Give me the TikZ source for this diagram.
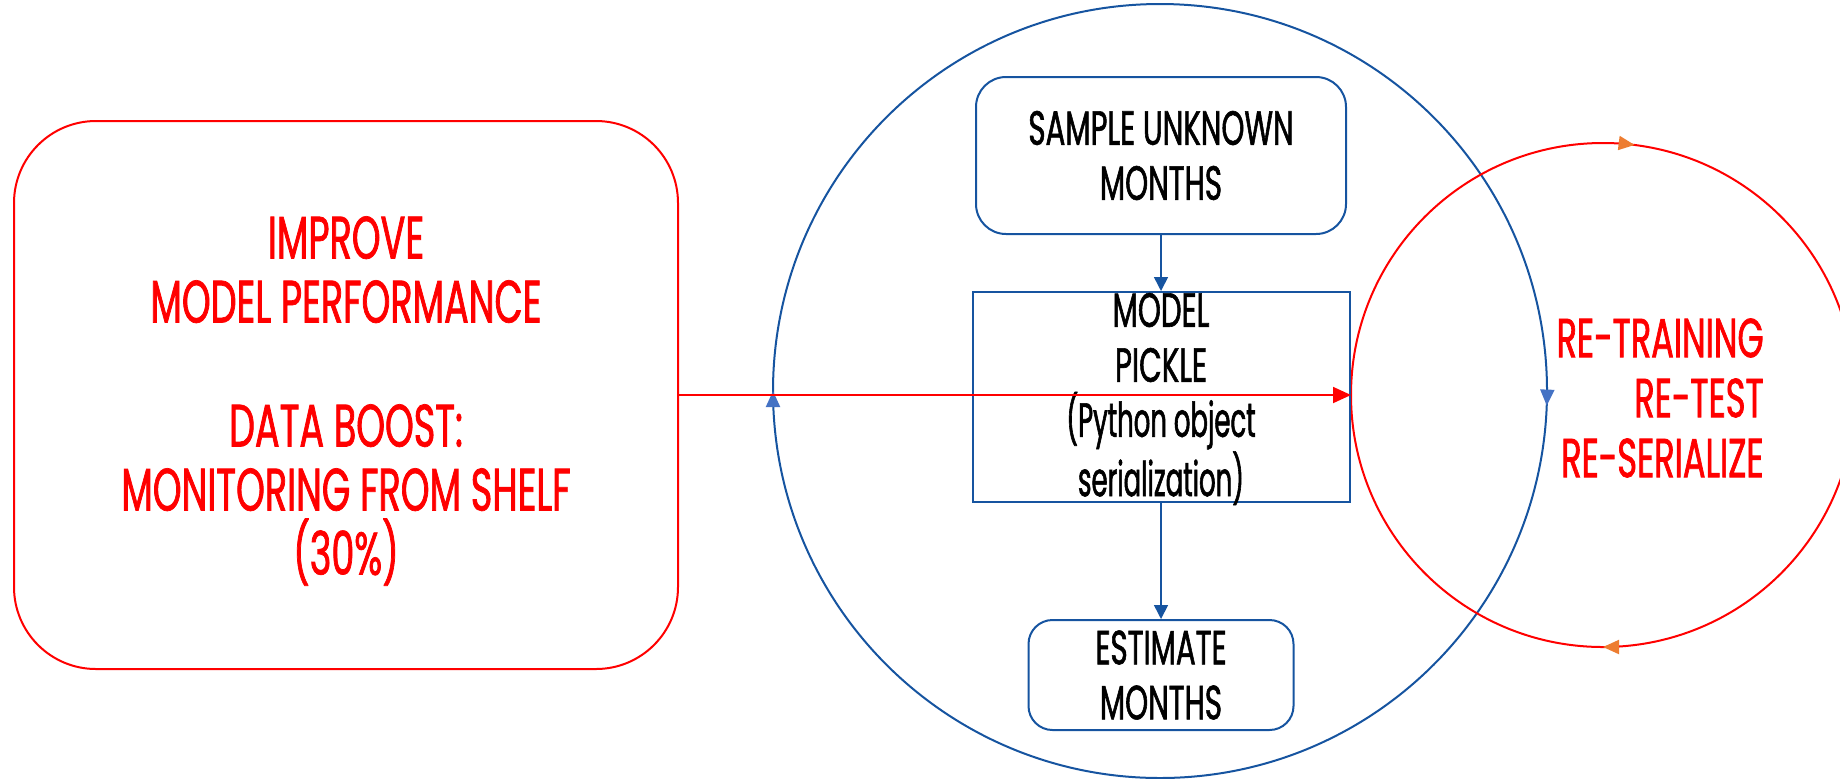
\documentclass[tikz,border=0pt]{standalone}
\usepackage{fontspec}
\setmainfont{Poppins}[FakeStretch=0.61,FakeBold=1.2]
\newfontfamily\lowerfont{Poppins}[FakeStretch=0.54,FakeBold=1.2]
\usetikzlibrary{arrows.meta,decorations.markings}
\definecolor{flowblue}{RGB}{22,84,160}
\definecolor{markblue}{RGB}{68,114,196}
\definecolor{loopred}{RGB}{255,0,0}
\definecolor{markorange}{RGB}{237,125,49}
\tikzset{
  redbox/.style={draw=loopred, line width=1pt, rounded corners=41pt,
    inner sep=0pt, minimum width=332pt, minimum height=274pt},
  goaltext/.style={text=loopred, align=center, inner sep=0pt,
    font=\fontsize{30}{32}\selectfont},
  stepbox/.style={draw=flowblue, line width=1pt, align=center, inner sep=0pt,
    font=\fontsize{24}{27.5}\selectfont},
  steptext/.style={align=center, inner sep=0pt, font=\fontsize{24}{27.5}\selectfont},
  flow/.style={draw=flowblue, line width=0.8pt, -{Triangle[length=7pt,width=7pt]}},
  redline/.style={draw=loopred, line width=0.9pt, -{Triangle[length=9pt,width=8pt]}},
  bluering/.style={draw=flowblue, line width=1pt, postaction={decorate},
    decoration={markings,
      mark=at position 0.006 with {\arrow[markblue]{Triangle[length=8pt,width=7pt]}},
      mark=at position 0.5 with {\arrow[markblue]{Triangle[length=8pt,width=7pt]}}}},
  redring/.style={draw=loopred, line width=1pt, postaction={decorate},
    decoration={markings,
      mark=at position 0.25 with {\arrow[markorange]{Triangle[length=8pt,width=7pt]}},
      mark=at position 0.77 with {\arrow[markorange]{Triangle[length=8pt,width=7pt]}}}},
  loopnote/.style={text=loopred, align=right, inner sep=0pt,
    font=\fontsize{27.5}{30}\selectfont}
}
\begin{document}
\begin{tikzpicture}[x=0.5pt,y=-0.5pt]
  \useasboundingbox (0,0) rectangle (1840,778);

  % outer cycles
  \draw[bluering] (1160,391) circle[radius=387];
  \draw[redring] (1603,395) circle[radius=252];

  % left goal box and its text
  \node[redbox] (improve) at (346,395) {};
  \node[goaltext] (goal) at (346,401)
    {IMPROVE\\MODEL PERFORMANCE\\[30pt]DATA BOOST:\\MONITORING FROM SHELF\\(30\%)};

  % inference steps
  \node[stepbox, rounded corners=15pt, minimum width=185pt, minimum height=78.5pt]
    (sample) at (1161,155.5) {SAMPLE UNKNOWN\\MONTHS};
  \node[stepbox, minimum width=188.5pt, minimum height=105pt] (pickle) at (1161,397) {};
  \node[steptext] (pickletext) at (1161,399)
    {MODEL\\PICKLE\\{\lowerfont(Python object}\\{\lowerfont serialization)}};
  \node[stepbox, rounded corners=12pt, minimum width=132.5pt, minimum height=55pt]
    (estimate) at (1161,675) {ESTIMATE\\MONTHS};

  \draw[flow] (sample.south) -- (pickle.north);
  \draw[flow] (pickle.south) -- (estimate.north);

  % retraining loop
  \coordinate (loopin) at (1351,395);
  \draw[redline] (improve.east) -- (loopin);
  \node[loopnote, anchor=east] (retrain) at (1764,398) {RE-TRAINING\\RE-TEST\\RE-SERIALIZE};
\end{tikzpicture}
\end{document}
